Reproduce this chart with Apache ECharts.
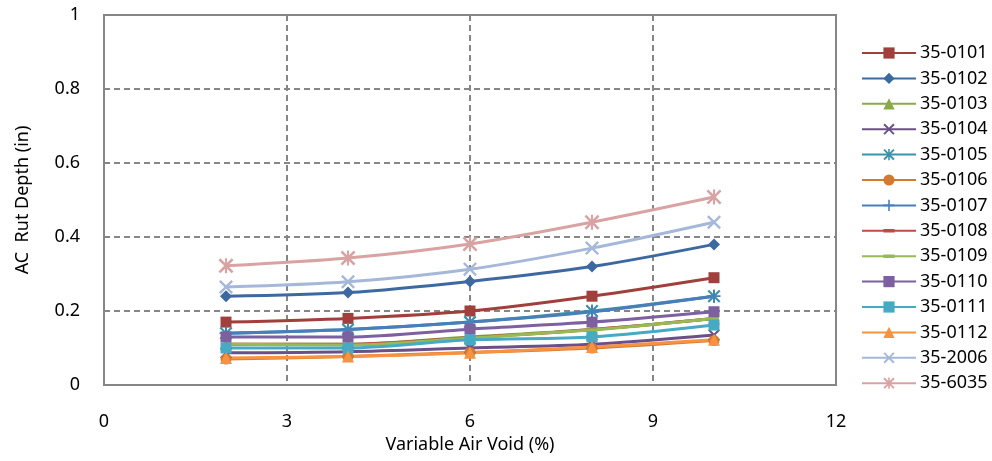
<!DOCTYPE html>
<html><head><meta charset="utf-8">
<script src="https://cdn.jsdelivr.net/npm/echarts@6/dist/echarts.min.js"></script>
<style>html,body{margin:0;padding:0;background:#fff;overflow:hidden}#c{width:992px;height:461px}</style>
</head><body><div id="c"></div>
<script>
const airVoid = [2, 4, 6, 8, 10];
const names = ['35-0101','35-0102','35-0103','35-0104','35-0105','35-0106','35-0107','35-0108','35-0109','35-0110','35-0111','35-0112','35-2006','35-6035'];
const s0101 = [0.17, 0.18, 0.20, 0.24, 0.29];
const s0102 = [0.24, 0.25, 0.28, 0.32, 0.38];
const s0103 = [0.11, 0.11, 0.13, 0.15, 0.18];
const s0104 = [0.087, 0.09, 0.10, 0.11, 0.135];
const s0105 = [0.14, 0.15, 0.17, 0.20, 0.24];
const s0106 = [0.07, 0.077, 0.088, 0.10, 0.12];
const s0107 = [0.14, 0.15, 0.17, 0.198, 0.24];
const s0108 = [0.11, 0.11, 0.128, 0.15, 0.18];
const s0109 = [0.11, 0.108, 0.127, 0.149, 0.18];
const s0110 = [0.13, 0.13, 0.151, 0.17, 0.198];
const s0111 = [0.10, 0.10, 0.122, 0.13, 0.162];
const s0112 = [0.073, 0.077, 0.087, 0.103, 0.122];
const s2006 = [0.265, 0.279, 0.313, 0.37, 0.44];
const s6035 = [0.322, 0.343, 0.381, 0.44, 0.508];
const allValues = [s0101,s0102,s0103,s0104,s0105,s0106,s0107,s0108,s0109,s0110,s0111,s0112,s2006,s6035];

const colors = ['#A03F3C','#3D69A0','#8AAA48','#6B5087','#3A93AB','#D47A30','#4A7EBB','#BE4B48','#98B954','#7D60A0','#46AAC5','#F69240','#A5B8D9','#D8A3A2'];
const X = 'path://M0,1.2L1.2,0L5,3.8L8.8,0L10,1.2L6.2,5L10,8.8L8.8,10L5,6.2L1.2,10L0,8.8L3.8,5Z';
const STAR = 'path://M0,1.2L1.2,0L5,3.8L8.8,0L10,1.2L6.2,5L10,8.8L8.8,10L5,6.2L1.2,10L0,8.8L3.8,5Z M4.3,0L5.7,0L5.7,10L4.3,10Z';
const PLUS = 'path://M4.3,0L5.7,0L5.7,10L4.3,10Z M0,4.3L10,4.3L10,5.7L0,5.7Z';
const DASH = 'path://M0,0L0.05,0L0.05,0.05Z M0,3.4L10,3.4L10,6.6L0,6.6Z M9.95,9.95L10,9.95L10,10Z';
const symbols = ['rect','diamond','triangle',X,STAR,'circle',PLUS,DASH,DASH,'rect','rect','triangle',X,STAR];
const sizes = [11,12,12,12,13,11,13,10,10,11,11,12,14,15];

const series = names.map((n, i) => ({
  name: n, type: 'line', smooth: 0.3,
  data: airVoid.map((x, j) => [x, allValues[i][j]]),
  symbol: symbols[i], symbolSize: sizes[i],
  lineStyle: {color: colors[i], width: 3},
  itemStyle: {color: colors[i]},
  emphasis: {disabled: true}
}));

const chart = echarts.init(document.getElementById('c'));
const font = 'Noto Sans';
chart.setOption({
  animation: false,
  color: colors,
  grid: {left: 104, right: 156, top: 15, bottom: 76, show: true, borderColor: '#868686', borderWidth: 2, containLabel: false},
  legend: {
    orient: 'vertical', left: 856, top: 39, itemWidth: 54, itemHeight: 14, itemGap: 7.4,
    textStyle: {fontFamily: font, fontSize: 18, color: '#000', padding: [0,0,0,-1]},
    data: names
  },
  xAxis: {
    type: 'value', min: 0, max: 12, interval: 3,
    name: 'Variable Air Void (%)', nameLocation: 'middle', nameGap: 48,
    nameTextStyle: {fontFamily: font, fontSize: 18, color: '#000'},
    axisLine: {show: true, lineStyle: {color: '#868686', width: 2}},
    axisTick: {show: false},
    axisLabel: {fontFamily: font, fontSize: 18, color: '#000', margin: 28},
    splitLine: {show: true, lineStyle: {color: '#868686', type: [6, 4], width: 2}}
  },
  yAxis: {
    type: 'value', min: 0, max: 1, interval: 0.2,
    name: 'AC  Rut Depth (in)', nameLocation: 'middle', nameGap: 72,
    nameTextStyle: {fontFamily: font, fontSize: 18, color: '#000'},
    axisLine: {show: true, lineStyle: {color: '#868686', width: 2}},
    axisTick: {show: false},
    axisLabel: {fontFamily: font, fontSize: 18, color: '#000', margin: 24},
    splitLine: {show: true, lineStyle: {color: '#868686', type: [6, 4], width: 2}}
  },
  series: series
});
</script></body></html>
